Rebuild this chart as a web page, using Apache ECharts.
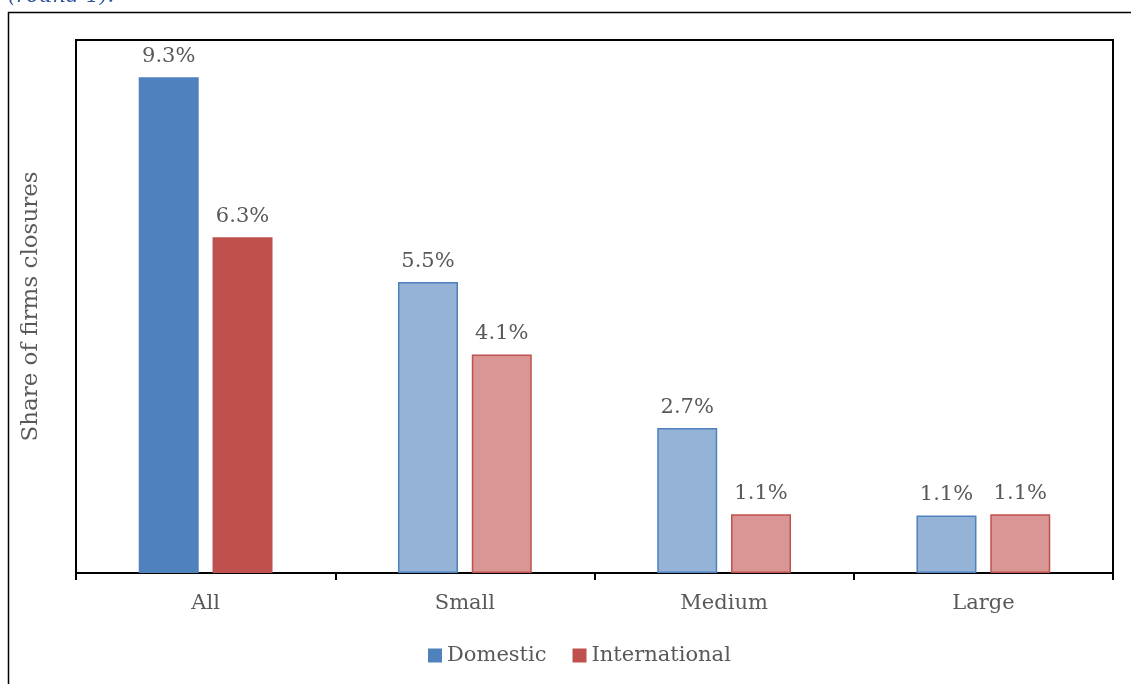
<!DOCTYPE html>
<html>
<head>
<meta charset="utf-8">
<script src="https://cdn.jsdelivr.net/npm/echarts@6/dist/echarts.min.js"></script>
<style>
html,body{margin:0;padding:0;background:#fff;}
#chart{width:1131px;height:684px;}
</style>
</head>
<body>
<div id="chart"></div>
<script>
var categories = ['All', 'Small', 'Medium', 'Large'];
var domestic = [9.3, 5.46, 2.72, 1.08];
var international = [6.3, 4.1, 1.1, 1.1];
var seriesNames = ['Domestic', 'International'];
var domesticLabels = ['9.3%', '5.5%', '2.7%', '1.1%'];
var internationalLabels = ['6.3%', '4.1%', '1.1%', '1.1%'];

var FONT = "'DejaVu Serif', Georgia, serif";
var TXT = '#595959';

function build(vals, labels, solid, light, border) {
  return vals.map(function (v, i) {
    return {
      value: v,
      label: { formatter: labels[i] },
      itemStyle: i === 0
        ? { color: solid, borderColor: solid, borderWidth: 0 }
        : { color: light, borderColor: border, borderWidth: 1.5 }
    };
  });
}

var chart = echarts.init(document.getElementById('chart'), null, { renderer: 'canvas' });
chart.setOption({
  animation: false,
  backgroundColor: '#fff',
  color: ['#4F81BD', '#C0504D'],
  graphic: [
    { type: 'rect', shape: { x: 8.5, y: 12.5, width: 1200, height: 800 },
      style: { fill: 'none', stroke: '#000', lineWidth: 1.5 }, z: 0 },
    { type: 'text', left: 8, top: -14,
      style: { text: '(round 1).', fill: '#2E5597', font: "italic 21px " + FONT } }
  ],
  grid: { left: 76, right: 18, top: 40, bottom: 111, show: true,
          borderColor: '#000', borderWidth: 2, backgroundColor: 'transparent' },
  legend: {
    bottom: 13, left: 423, itemWidth: 14, itemHeight: 14, itemGap: 26,
    icon: 'rect',
    textStyle: { fontFamily: FONT, fontSize: 21, color: TXT },
    data: seriesNames
  },
  xAxis: {
    type: 'category', data: categories, boundaryGap: true,
    axisLine: { lineStyle: { color: '#000', width: 2 } },
    axisTick: { show: true, length: 7, lineStyle: { color: '#000', width: 2 } },
    axisLabel: { margin: 20, fontFamily: FONT, fontSize: 21, color: TXT }
  },
  yAxis: {
    type: 'value', min: 0, max: 10,
    name: 'Share of firms closures', nameLocation: 'middle', nameGap: 33,
    nameTextStyle: { fontFamily: FONT, fontSize: 23, color: TXT },
    axisLine: { show: false }, axisTick: { show: false },
    axisLabel: { show: false }, splitLine: { show: false }
  },
  series: [
    { name: seriesNames[0], type: 'bar', barWidth: 60, barGap: '23%',
      data: build(domestic, domesticLabels, '#4F81BD', '#95B3D7', '#4F81BD'),
      label: { show: true, position: 'top', distance: 10, fontFamily: FONT, fontSize: 21, color: TXT } },
    { name: seriesNames[1], type: 'bar', barWidth: 60,
      data: build(international, internationalLabels, '#C0504D', '#D99694', '#C0504D'),
      label: { show: true, position: 'top', distance: 10, fontFamily: FONT, fontSize: 21, color: TXT } }
  ]
});
</script>
</body>
</html>
